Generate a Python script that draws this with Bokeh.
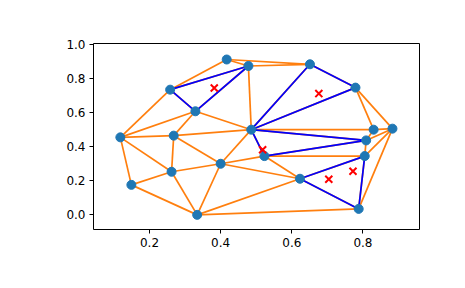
from bokeh.plotting import figure
from bokeh.models import Range1d, FixedTicker, PrintfTickFormatter
from bokeh.embed import file_html
from bokeh.resources import INLINE

# Triangulation points
pts_x = [0.417, 0.478, 0.258, 0.329, 0.486, 0.118, 0.268, 0.651, 0.779, 0.830,
         0.883, 0.809, 0.523, 0.400, 0.262, 0.149, 0.334, 0.805, 0.623, 0.788]
pts_y = [0.912, 0.874, 0.735, 0.608, 0.500, 0.455, 0.465, 0.884, 0.747, 0.500,
         0.506, 0.437, 0.345, 0.300, 0.253, 0.176, 0.000, 0.345, 0.212, 0.035]

# Triangles (indices into points)
triangles = [
    (2, 0, 1), (0, 7, 1), (2, 1, 3), (1, 7, 4), (1, 3, 4), (7, 8, 4),
    (2, 3, 5), (5, 3, 6), (3, 6, 4), (5, 6, 14), (5, 14, 15), (15, 14, 16),
    (14, 13, 16), (6, 13, 14), (6, 4, 13), (4, 13, 12), (4, 12, 11),
    (4, 11, 9), (4, 8, 9), (8, 9, 10), (9, 11, 10), (11, 10, 17),
    (11, 17, 12), (12, 17, 18), (17, 10, 19), (17, 19, 18), (13, 12, 18),
    (13, 18, 16), (16, 18, 19),
]

# Triangles that contain the query points
found = [(2, 1, 3), (7, 8, 4), (4, 12, 11), (17, 19, 18)]

# Query points
query_x = [0.382, 0.676, 0.518, 0.704, 0.772]
query_y = [0.745, 0.712, 0.382, 0.209, 0.256]

x_ticks = [0.2, 0.4, 0.6, 0.8]
y_ticks = [0.0, 0.2, 0.4, 0.6, 0.8, 1.0]


def edges_of(tris):
    seen = set()
    xs, ys = [], []
    for t in tris:
        for a, b in ((t[0], t[1]), (t[1], t[2]), (t[2], t[0])):
            key = (min(a, b), max(a, b))
            if key in seen:
                continue
            seen.add(key)
            xs.append([pts_x[a], pts_x[b]])
            ys.append([pts_y[a], pts_y[b]])
    return xs, ys


p = figure(width=465, height=288, output_backend="svg", toolbar_location=None,
           x_range=Range1d(0.0425, 0.959), y_range=Range1d(-0.086, 1.006),
           min_border_left=93, min_border_right=46, min_border_top=43,
           min_border_bottom=59)
p.background_fill_color = "white"
p.border_fill_color = "white"
p.xgrid.visible = False
p.ygrid.visible = False
p.outline_line_color = "black"
p.outline_line_width = 1
p.outline_line_alpha = 1

for ax, ticks in ((p.xaxis, x_ticks), (p.yaxis, y_ticks)):
    ax.ticker = FixedTicker(ticks=ticks)
    ax.formatter = PrintfTickFormatter(format="%.1f")
    ax.axis_line_color = None
    ax.major_tick_in = 0
    ax.major_tick_out = 4
    ax.major_tick_line_color = "black"
    ax.minor_tick_line_color = None
    ax.major_label_text_font = "DejaVu Sans"
    ax.major_label_text_font_size = "12px"
    ax.major_label_text_color = "black"
    ax.major_label_standoff = 4

ex, ey = edges_of(triangles)
p.multi_line(ex, ey, line_color="#ff7f0e", line_width=1.7)

for t in found:
    xs = [pts_x[i] for i in t] + [pts_x[t[0]]]
    ys = [pts_y[i] for i in t] + [pts_y[t[0]]]
    p.line(xs, ys, line_color="#0000ff", line_width=1.7)

p.scatter(pts_x, pts_y, marker="circle", size=9, fill_color="#1f77b4",
          line_color="#1f77b4")
p.scatter(query_x, query_y, marker="x", size=10, line_color="red", line_width=2)

open("out.html", "w").write(file_html(p, INLINE))
